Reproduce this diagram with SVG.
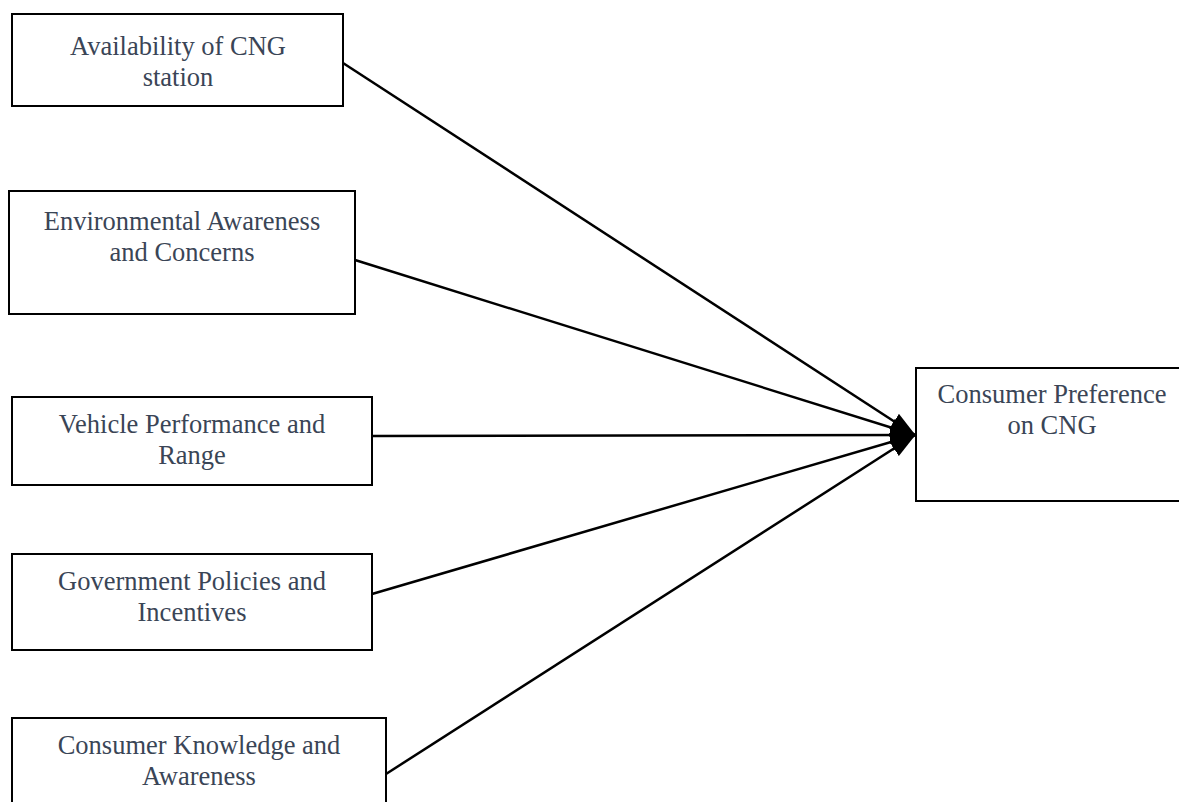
<svg xmlns="http://www.w3.org/2000/svg" width="1179" height="802" viewBox="0 0 1179 802">
<style>
.box{fill:#fff;stroke:#000;stroke-width:2}
.t{font-family:"Liberation Serif","Times New Roman",serif;font-size:26.5px;fill:#3a4556;text-anchor:middle}
.c{stroke:#000;stroke-width:2.5;fill:none;marker-end:url(#ah)}
</style>
<defs>
<marker id="ah" markerUnits="userSpaceOnUse" markerWidth="26" markerHeight="18" refX="25" refY="9" orient="auto">
<path d="M0,0 L26,9 L0,18 Z" fill="#000"/>
</marker>
</defs>
<rect width="1179" height="802" fill="#fff"/>
<g id="n1">
<rect class="box" x="12" y="14" width="331" height="92"/>
<text class="t" x="178" y="55">Availability of CNG</text>
<text class="t" x="178" y="86">station</text>
</g>
<g id="n2">
<rect class="box" x="9" y="191" width="346" height="123"/>
<text class="t" x="182" y="230">Environmental Awareness</text>
<text class="t" x="182" y="261">and Concerns</text>
</g>
<g id="n3">
<rect class="box" x="12" y="397" width="360" height="88"/>
<text class="t" x="192" y="433">Vehicle Performance and</text>
<text class="t" x="192" y="464">Range</text>
</g>
<g id="n4">
<rect class="box" x="12" y="554" width="360" height="96"/>
<text class="t" x="192" y="590">Government Policies and</text>
<text class="t" x="192" y="621">Incentives</text>
</g>
<g id="n5">
<rect class="box" x="12" y="718" width="374" height="100"/>
<text class="t" x="199" y="754">Consumer Knowledge and</text>
<text class="t" x="199" y="785">Awareness</text>
</g>
<g id="target">
<rect class="box" x="916" y="368" width="280" height="133"/>
<text class="t" x="1052" y="403">Consumer Preference</text>
<text class="t" x="1052" y="434">on CNG</text>
</g>
<g id="connectors">
<line class="c" x1="343" y1="63" x2="915" y2="435"/>
<line class="c" x1="355" y1="260" x2="915" y2="435"/>
<line class="c" x1="372" y1="436" x2="915" y2="435"/>
<line class="c" x1="372" y1="594" x2="915" y2="435"/>
<line class="c" x1="386" y1="774" x2="915" y2="435"/>
</g>
</svg>
